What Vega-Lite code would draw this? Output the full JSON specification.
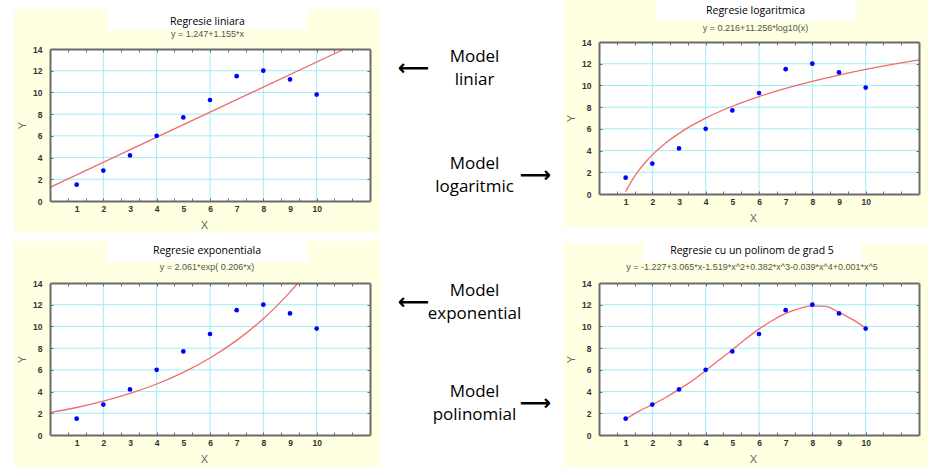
{
  "$schema": "https://vega.github.io/schema/vega-lite/v6.json",
  "background": "white",
  "padding": {"left": 14, "top": 0, "right": 8, "bottom": 5},
  "config": {"view": {"stroke": null}, "font": "Liberation Sans"},
  "datasets": {
    "plot": [{"x0": 0, "x1": 12, "y0": 0, "y1": 14}],
    "pts": [{"x": 1, "y": 1.5}, {"x": 2, "y": 2.8}, {"x": 3, "y": 4.2}, {"x": 4, "y": 6.0}, {"x": 5, "y": 7.7}, {"x": 6, "y": 9.3}, {"x": 7, "y": 11.5}, {"x": 8, "y": 12.0}, {"x": 9, "y": 11.2}, {"x": 10, "y": 9.8}],
    "lin": [{"x": 0, "y": 1.247}, {"x": 11.04, "y": 14.0}],
    "log": [{"x": 1, "y": 0.216}, {"x": 1.25, "y": 1.307}, {"x": 1.5, "y": 2.198}, {"x": 1.75, "y": 2.952}, {"x": 2, "y": 3.604}, {"x": 2.5, "y": 4.695}, {"x": 3, "y": 5.587}, {"x": 3.5, "y": 6.34}, {"x": 4, "y": 6.993}, {"x": 5, "y": 8.084}, {"x": 6, "y": 8.975}, {"x": 7, "y": 9.728}, {"x": 8, "y": 10.381}, {"x": 9, "y": 10.957}, {"x": 10, "y": 11.472}, {"x": 11, "y": 11.938}, {"x": 12, "y": 12.363}],
    "exp": [{"x": 0, "y": 2.061}, {"x": 1, "y": 2.533}, {"x": 2, "y": 3.112}, {"x": 3, "y": 3.824}, {"x": 4, "y": 4.698}, {"x": 5, "y": 5.773}, {"x": 6, "y": 7.094}, {"x": 7, "y": 8.716}, {"x": 8, "y": 10.71}, {"x": 8.5, "y": 11.872}, {"x": 9, "y": 13.16}, {"x": 9.3, "y": 14.0}],
    "poly": [{"x": 1, "y": 1.45}, {"x": 1.5, "y": 2.2}, {"x": 2, "y": 2.8}, {"x": 2.5, "y": 3.45}, {"x": 3, "y": 4.2}, {"x": 3.5, "y": 5.0}, {"x": 4, "y": 5.95}, {"x": 4.5, "y": 6.9}, {"x": 5, "y": 7.85}, {"x": 5.5, "y": 8.85}, {"x": 6, "y": 9.75}, {"x": 6.5, "y": 10.55}, {"x": 7, "y": 11.2}, {"x": 7.5, "y": 11.65}, {"x": 8, "y": 11.9}, {"x": 8.5, "y": 11.85}, {"x": 9, "y": 11.3}, {"x": 9.5, "y": 10.65}, {"x": 10, "y": 9.85}],
    "gx": [{"v": 2}, {"v": 4}, {"v": 6}, {"v": 8}, {"v": 10}],
    "gy": [{"v": 2}, {"v": 4}, {"v": 6}, {"v": 8}, {"v": 10}, {"v": 12}]
  },
  "spacing": 0,
  "hconcat": [
    {
      "spacing": 8,
      "bounds": "flush",
      "vconcat": [
        {"width": 366, "height": 1, "data": {"values": [{}]}, "mark": {"type": "point", "opacity": 0, "size": 0, "strokeWidth": 0}, "encoding": {}},
        {
          "width": 366, "height": 224,
          "view": {"fill": "#FFFFE1", "stroke": null},
          "title": {"text": "Regresie liniara", "subtitle": "y = 1.247+1.155*x", "frame": "group", "anchor": "middle", "dx": 10.5, "offset": -29.5, "font": "Open Sans", "fontSize": 10.5, "fontWeight": "normal", "color": "black", "subtitleFont": "Liberation Sans", "subtitleFontSize": 9, "subtitleColor": "#555", "subtitlePadding": 2.3},
          "resolve": {"axis": {"x": "independent", "y": "independent"}},
          "layer": [
            {"data": {"name": "plot"}, "mark": {"type": "rect", "fill": "white"},
             "encoding": {
               "x": {"field": "x0", "type": "quantitative", "scale": {"domain": [0, 12], "range": [36, 356], "nice": false, "zero": false},
                     "axis": {"orient": "bottom", "offset": -32, "values": [1, 2, 3, 4, 5, 6, 7, 8, 9, 10], "format": "d", "ticks": false, "tickSize": 0, "grid": false, "domain": true, "domainColor": "#6B6B6B", "domainWidth": 2, "labelFont": "Liberation Sans", "labelFontSize": 8.5, "labelFontWeight": "bold", "labelColor": "#333", "labelPadding": 3.5, "labelFlush": false, "title": "X", "titleX": 190, "titleFont": "Liberation Sans", "titleFontSize": 11, "titleFontWeight": "normal", "titleColor": "#666", "titlePadding": 6, "zindex": 1}},
               "x2": {"field": "x1"},
               "y": {"field": "y0", "type": "quantitative", "scale": {"domain": [0, 14], "range": [192, 40], "nice": false, "zero": false},
                     "axis": {"orient": "left", "offset": -36, "values": [0, 2, 4, 6, 8, 10, 12, 14], "format": "d", "ticks": false, "tickSize": 0, "grid": false, "domain": true, "domainColor": "#6B6B6B", "domainWidth": 2, "labelFont": "Liberation Sans", "labelFontSize": 8.5, "labelFontWeight": "bold", "labelColor": "#333", "labelPadding": 8, "labelFlush": false, "title": "Y", "titleFont": "Liberation Sans", "titleFontSize": 11, "titleFontWeight": "normal", "titleColor": "#666", "titlePadding": 5, "zindex": 1}},
               "y2": {"field": "y1"}}},
            {"data": {"values": [{"x0": 2.1375, "x1": 9.6375, "y0": 15.814, "y1": 17.684}]}, "mark": {"type": "rect", "fill": "white"},
             "encoding": {"x": {"field": "x0", "type": "quantitative", "axis": null}, "x2": {"field": "x1"}, "y": {"field": "y0", "type": "quantitative", "axis": null}, "y2": {"field": "y1"}}},
            {"data": {"name": "gx"}, "mark": {"type": "rule", "color": "#9CF0F6", "strokeWidth": 1},
             "encoding": {"x": {"field": "v", "type": "quantitative", "axis": {"orient": "top", "offset": -40, "values": [0.6667, 1.3333, 2, 2.6667, 3.3333, 4, 4.6667, 5.3333, 6, 6.6667, 7.3333, 8, 8.6667, 9.3333, 10, 10.6667, 11.3333], "labels": false, "ticks": true, "tickSize": -3, "tickColor": "#6B6B6B", "domain": true, "domainColor": "#6B6B6B", "domainWidth": 2, "grid": false, "title": null, "zindex": 1}},
                          "y": {"datum": 0, "axis": null}, "y2": {"datum": 14}}},
            {"data": {"name": "gy"}, "mark": {"type": "rule", "color": "#9CF0F6", "strokeWidth": 1},
             "encoding": {"y": {"field": "v", "type": "quantitative", "axis": {"orient": "right", "offset": -10, "values": [2, 4, 6, 8, 10, 12], "labels": false, "ticks": true, "tickSize": -3, "tickColor": "#6B6B6B", "domain": true, "domainColor": "#6B6B6B", "domainWidth": 2, "grid": false, "title": null, "zindex": 1}},
                          "x": {"datum": 0, "axis": null}, "x2": {"datum": 12}}},
            {"data": {"name": "lin"}, "mark": {"type": "line", "color": "#F26B6B", "strokeWidth": 1.3},
             "encoding": {"x": {"field": "x", "type": "quantitative", "axis": null}, "y": {"field": "y", "type": "quantitative", "axis": null}}},
            {"data": {"name": "pts"}, "mark": {"type": "point", "filled": true, "color": "#0000FF", "size": 22, "opacity": 1},
             "encoding": {"x": {"field": "x", "type": "quantitative", "axis": {"orient": "bottom", "offset": -32, "values": [0.6667, 1.3333, 2, 2.6667, 3.3333, 4, 4.6667, 5.3333, 6, 6.6667, 7.3333, 8, 8.6667, 9.3333, 10, 10.6667, 11.3333], "labels": false, "ticks": true, "tickSize": -3, "tickColor": "#6B6B6B", "domain": false, "grid": false, "title": null, "zindex": 1}},
                          "y": {"field": "y", "type": "quantitative", "axis": {"orient": "left", "offset": -36, "values": [2, 4, 6, 8, 10, 12], "labels": false, "ticks": true, "tickSize": -3, "tickColor": "#6B6B6B", "domain": false, "grid": false, "title": null, "zindex": 1}}}}
          ]
        },
        {
          "width": 366, "height": 226,
          "view": {"fill": "#FFFFE1", "stroke": null},
          "title": {"text": "Regresie exponentiala", "subtitle": "y = 2.061*exp( 0.206*x)", "frame": "group", "anchor": "middle", "dx": 10, "offset": -31.3, "font": "Open Sans", "fontSize": 10.5, "fontWeight": "normal", "color": "black", "subtitleFont": "Liberation Sans", "subtitleFontSize": 9, "subtitleColor": "#555", "subtitlePadding": 7.3},
          "resolve": {"axis": {"x": "independent", "y": "independent"}},
          "layer": [
            {"data": {"name": "plot"}, "mark": {"type": "rect", "fill": "white"},
             "encoding": {
               "x": {"field": "x0", "type": "quantitative", "scale": {"domain": [0, 12], "range": [36, 356], "nice": false, "zero": false},
                     "axis": {"orient": "bottom", "offset": -32, "values": [1, 2, 3, 4, 5, 6, 7, 8, 9, 10], "format": "d", "ticks": false, "tickSize": 0, "grid": false, "domain": true, "domainColor": "#6B6B6B", "domainWidth": 2, "labelFont": "Liberation Sans", "labelFontSize": 8.5, "labelFontWeight": "bold", "labelColor": "#333", "labelPadding": 3.5, "labelFlush": false, "title": "X", "titleX": 190, "titleFont": "Liberation Sans", "titleFontSize": 11, "titleFontWeight": "normal", "titleColor": "#666", "titlePadding": 6, "zindex": 1}},
               "x2": {"field": "x1"},
               "y": {"field": "y0", "type": "quantitative", "scale": {"domain": [0, 14], "range": [194, 42], "nice": false, "zero": false},
                     "axis": {"orient": "left", "offset": -36, "values": [0, 2, 4, 6, 8, 10, 12, 14], "format": "d", "ticks": false, "tickSize": 0, "grid": false, "domain": true, "domainColor": "#6B6B6B", "domainWidth": 2, "labelFont": "Liberation Sans", "labelFontSize": 8.5, "labelFontWeight": "bold", "labelColor": "#333", "labelPadding": 8, "labelFlush": false, "title": "Y", "titleFont": "Liberation Sans", "titleFontSize": 11, "titleFontWeight": "normal", "titleColor": "#666", "titlePadding": 5, "zindex": 1}},
               "y2": {"field": "y1"}}},
            {"data": {"values": [{"x0": 2.1375, "x1": 9.6375, "y0": 15.907, "y1": 17.868}]}, "mark": {"type": "rect", "fill": "white"},
             "encoding": {"x": {"field": "x0", "type": "quantitative", "axis": null}, "x2": {"field": "x1"}, "y": {"field": "y0", "type": "quantitative", "axis": null}, "y2": {"field": "y1"}}},
            {"data": {"name": "gx"}, "mark": {"type": "rule", "color": "#9CF0F6", "strokeWidth": 1},
             "encoding": {"x": {"field": "v", "type": "quantitative", "axis": {"orient": "top", "offset": -42, "values": [0.6667, 1.3333, 2, 2.6667, 3.3333, 4, 4.6667, 5.3333, 6, 6.6667, 7.3333, 8, 8.6667, 9.3333, 10, 10.6667, 11.3333], "labels": false, "ticks": true, "tickSize": -3, "tickColor": "#6B6B6B", "domain": true, "domainColor": "#6B6B6B", "domainWidth": 2, "grid": false, "title": null, "zindex": 1}},
                          "y": {"datum": 0, "axis": null}, "y2": {"datum": 14}}},
            {"data": {"name": "gy"}, "mark": {"type": "rule", "color": "#9CF0F6", "strokeWidth": 1},
             "encoding": {"y": {"field": "v", "type": "quantitative", "axis": {"orient": "right", "offset": -10, "values": [2, 4, 6, 8, 10, 12], "labels": false, "ticks": true, "tickSize": -3, "tickColor": "#6B6B6B", "domain": true, "domainColor": "#6B6B6B", "domainWidth": 2, "grid": false, "title": null, "zindex": 1}},
                          "x": {"datum": 0, "axis": null}, "x2": {"datum": 12}}},
            {"data": {"name": "exp"}, "mark": {"type": "line", "color": "#F26B6B", "strokeWidth": 1.3, "interpolate": "monotone"},
             "encoding": {"x": {"field": "x", "type": "quantitative", "axis": null}, "y": {"field": "y", "type": "quantitative", "axis": null}}},
            {"data": {"name": "pts"}, "mark": {"type": "point", "filled": true, "color": "#0000FF", "size": 22, "opacity": 1},
             "encoding": {"x": {"field": "x", "type": "quantitative", "axis": {"orient": "bottom", "offset": -32, "values": [0.6667, 1.3333, 2, 2.6667, 3.3333, 4, 4.6667, 5.3333, 6, 6.6667, 7.3333, 8, 8.6667, 9.3333, 10, 10.6667, 11.3333], "labels": false, "ticks": true, "tickSize": -3, "tickColor": "#6B6B6B", "domain": false, "grid": false, "title": null, "zindex": 1}},
                          "y": {"field": "y", "type": "quantitative", "axis": {"orient": "left", "offset": -36, "values": [2, 4, 6, 8, 10, 12], "labels": false, "ticks": true, "tickSize": -3, "tickColor": "#6B6B6B", "domain": false, "grid": false, "title": null, "zindex": 1}}}}
          ]
        }
      ]
    },
    {
      "spacing": 0,
      "bounds": "flush",
      "vconcat": [
        {"width": 183, "height": 136,
         "layer": [
           {"data": {"values": [{"part": "C", "label": "Model\nliniar"}]}, "mark": {"type": "text", "font": "Open Sans", "fontSize": 17, "lineHeight": 23, "lineBreak": "\n", "color": "black", "dy": -11.5, "dx": 3},
            "encoding": {"x": {"field": "part", "type": "nominal", "scale": {"type": "point", "domain": ["L", "C", "R"], "padding": 0.5}, "axis": null}, "text": {"field": "label", "type": "nominal"}}},
           {"data": {"values": [{"part": "L", "label": "⟵"}]}, "mark": {"type": "text", "font": "DejaVu Sans", "fontSize": 22, "fontWeight": "bold", "color": "black", "dx": 3},
            "encoding": {"x": {"field": "part", "type": "nominal", "axis": null}, "text": {"field": "label", "type": "nominal"}}}
         ]},
        {"width": 183, "height": 78,
         "layer": [
           {"data": {"values": [{"part": "C", "label": "Model\nlogaritmic"}]}, "mark": {"type": "text", "font": "Open Sans", "fontSize": 17, "lineHeight": 23, "lineBreak": "\n", "color": "black", "dy": -11.5, "dx": 3},
            "encoding": {"x": {"field": "part", "type": "nominal", "scale": {"type": "point", "domain": ["L", "C", "R"], "padding": 0.5}, "axis": null}, "text": {"field": "label", "type": "nominal"}}},
           {"data": {"values": [{"part": "R", "label": "⟶"}]}, "mark": {"type": "text", "font": "DejaVu Sans", "fontSize": 22, "fontWeight": "bold", "color": "black", "dx": 3},
            "encoding": {"x": {"field": "part", "type": "nominal", "axis": null}, "text": {"field": "label", "type": "nominal"}}}
         ]},
        {"width": 183, "height": 176,
         "layer": [
           {"data": {"values": [{"part": "C", "label": "Model\nexponential"}]}, "mark": {"type": "text", "font": "Open Sans", "fontSize": 17, "lineHeight": 23, "lineBreak": "\n", "color": "black", "dy": -11.5, "dx": 3},
            "encoding": {"x": {"field": "part", "type": "nominal", "scale": {"type": "point", "domain": ["L", "C", "R"], "padding": 0.5}, "axis": null}, "text": {"field": "label", "type": "nominal"}}},
           {"data": {"values": [{"part": "L", "label": "⟵"}]}, "mark": {"type": "text", "font": "DejaVu Sans", "fontSize": 22, "fontWeight": "bold", "color": "black", "dx": 3},
            "encoding": {"x": {"field": "part", "type": "nominal", "axis": null}, "text": {"field": "label", "type": "nominal"}}}
         ]},
        {"width": 183, "height": 26,
         "layer": [
           {"data": {"values": [{"part": "C", "label": "Model\npolinomial"}]}, "mark": {"type": "text", "font": "Open Sans", "fontSize": 17, "lineHeight": 23, "lineBreak": "\n", "color": "black", "dy": -11.5, "dx": 3},
            "encoding": {"x": {"field": "part", "type": "nominal", "scale": {"type": "point", "domain": ["L", "C", "R"], "padding": 0.5}, "axis": null}, "text": {"field": "label", "type": "nominal"}}},
           {"data": {"values": [{"part": "R", "label": "⟶"}]}, "mark": {"type": "text", "font": "DejaVu Sans", "fontSize": 22, "fontWeight": "bold", "color": "black", "dx": 3},
            "encoding": {"x": {"field": "part", "type": "nominal", "axis": null}, "text": {"field": "label", "type": "nominal"}}}
         ]}
      ]
    },
    {
      "spacing": 16,
      "bounds": "flush",
      "vconcat": [
        {
          "width": 365, "height": 227,
          "view": {"fill": "#FFFFE1", "stroke": null},
          "title": {"text": "Regresie logaritmica", "subtitle": "y = 0.216+11.256*log10(x)", "frame": "group", "anchor": "middle", "dx": 10, "offset": -32.7, "font": "Open Sans", "fontSize": 10.5, "fontWeight": "normal", "color": "black", "subtitleFont": "Liberation Sans", "subtitleFontSize": 9, "subtitleColor": "#555", "subtitlePadding": 7.4},
          "resolve": {"axis": {"x": "independent", "y": "independent"}},
          "layer": [
            {"data": {"name": "plot"}, "mark": {"type": "rect", "fill": "white"},
             "encoding": {
               "x": {"field": "x0", "type": "quantitative", "scale": {"domain": [0, 12], "range": [36, 356], "nice": false, "zero": false},
                     "axis": {"orient": "bottom", "offset": -33, "values": [1, 2, 3, 4, 5, 6, 7, 8, 9, 10], "format": "d", "ticks": false, "tickSize": 0, "grid": false, "domain": true, "domainColor": "#6B6B6B", "domainWidth": 2, "labelFont": "Liberation Sans", "labelFontSize": 8.5, "labelFontWeight": "bold", "labelColor": "#333", "labelPadding": 3.5, "labelFlush": false, "title": "X", "titleX": 190, "titleFont": "Liberation Sans", "titleFontSize": 11, "titleFontWeight": "normal", "titleColor": "#666", "titlePadding": 6, "zindex": 1}},
               "x2": {"field": "x1"},
               "y": {"field": "y0", "type": "quantitative", "scale": {"domain": [0, 14], "range": [194, 42], "nice": false, "zero": false},
                     "axis": {"orient": "left", "offset": -36, "values": [0, 2, 4, 6, 8, 10, 12, 14], "format": "d", "ticks": false, "tickSize": 0, "grid": false, "domain": true, "domainColor": "#6B6B6B", "domainWidth": 2, "labelFont": "Liberation Sans", "labelFontSize": 8.5, "labelFontWeight": "bold", "labelColor": "#333", "labelPadding": 8, "labelFlush": false, "title": "Y", "titleFont": "Liberation Sans", "titleFontSize": 11, "titleFontWeight": "normal", "titleColor": "#666", "titlePadding": 5, "zindex": 1}},
               "y2": {"field": "y1"}}},
            {"data": {"values": [{"x0": 2.1375, "x1": 9.6375, "y0": 15.934, "y1": 17.868}]}, "mark": {"type": "rect", "fill": "white"},
             "encoding": {"x": {"field": "x0", "type": "quantitative", "axis": null}, "x2": {"field": "x1"}, "y": {"field": "y0", "type": "quantitative", "axis": null}, "y2": {"field": "y1"}}},
            {"data": {"name": "gx"}, "mark": {"type": "rule", "color": "#9CF0F6", "strokeWidth": 1},
             "encoding": {"x": {"field": "v", "type": "quantitative", "axis": {"orient": "top", "offset": -42, "values": [0.6667, 1.3333, 2, 2.6667, 3.3333, 4, 4.6667, 5.3333, 6, 6.6667, 7.3333, 8, 8.6667, 9.3333, 10, 10.6667, 11.3333], "labels": false, "ticks": true, "tickSize": -3, "tickColor": "#6B6B6B", "domain": true, "domainColor": "#6B6B6B", "domainWidth": 2, "grid": false, "title": null, "zindex": 1}},
                          "y": {"datum": 0, "axis": null}, "y2": {"datum": 14}}},
            {"data": {"name": "gy"}, "mark": {"type": "rule", "color": "#9CF0F6", "strokeWidth": 1},
             "encoding": {"y": {"field": "v", "type": "quantitative", "axis": {"orient": "right", "offset": -9, "values": [2, 4, 6, 8, 10, 12], "labels": false, "ticks": true, "tickSize": -3, "tickColor": "#6B6B6B", "domain": true, "domainColor": "#6B6B6B", "domainWidth": 2, "grid": false, "title": null, "zindex": 1}},
                          "x": {"datum": 0, "axis": null}, "x2": {"datum": 12}}},
            {"data": {"name": "log"}, "mark": {"type": "line", "color": "#F26B6B", "strokeWidth": 1.3, "interpolate": "monotone"},
             "encoding": {"x": {"field": "x", "type": "quantitative", "axis": null}, "y": {"field": "y", "type": "quantitative", "axis": null}}},
            {"data": {"name": "pts"}, "mark": {"type": "point", "filled": true, "color": "#0000FF", "size": 22, "opacity": 1},
             "encoding": {"x": {"field": "x", "type": "quantitative", "axis": {"orient": "bottom", "offset": -33, "values": [0.6667, 1.3333, 2, 2.6667, 3.3333, 4, 4.6667, 5.3333, 6, 6.6667, 7.3333, 8, 8.6667, 9.3333, 10, 10.6667, 11.3333], "labels": false, "ticks": true, "tickSize": -3, "tickColor": "#6B6B6B", "domain": false, "grid": false, "title": null, "zindex": 1}},
                          "y": {"field": "y", "type": "quantitative", "axis": {"orient": "left", "offset": -36, "values": [2, 4, 6, 8, 10, 12], "labels": false, "ticks": true, "tickSize": -3, "tickColor": "#6B6B6B", "domain": false, "grid": false, "title": null, "zindex": 1}}}}
          ]
        },
        {
          "width": 365, "height": 224,
          "view": {"fill": "#FFFFE1", "stroke": null},
          "title": {"text": "Regresie cu un polinom de grad 5", "subtitle": "y = -1.227+3.065*x-1.519*x^2+0.382*x^3-0.039*x^4+0.001*x^5", "frame": "group", "anchor": "middle", "dx": 6.5, "offset": -29.3, "font": "Open Sans", "fontSize": 10.5, "fontWeight": "normal", "color": "black", "subtitleFont": "Liberation Sans", "subtitleFontSize": 9, "subtitleColor": "#555", "subtitlePadding": 7.3},
          "resolve": {"axis": {"x": "independent", "y": "independent"}},
          "layer": [
            {"data": {"name": "plot"}, "mark": {"type": "rect", "fill": "white"},
             "encoding": {
               "x": {"field": "x0", "type": "quantitative", "scale": {"domain": [0, 12], "range": [36, 356], "nice": false, "zero": false},
                     "axis": {"orient": "bottom", "offset": -32, "values": [1, 2, 3, 4, 5, 6, 7, 8, 9, 10], "format": "d", "ticks": false, "tickSize": 0, "grid": false, "domain": true, "domainColor": "#6B6B6B", "domainWidth": 2, "labelFont": "Liberation Sans", "labelFontSize": 8.5, "labelFontWeight": "bold", "labelColor": "#333", "labelPadding": 3.5, "labelFlush": false, "title": "X", "titleX": 190, "titleFont": "Liberation Sans", "titleFontSize": 11, "titleFontWeight": "normal", "titleColor": "#666", "titlePadding": 6, "zindex": 1}},
               "x2": {"field": "x1"},
               "y": {"field": "y0", "type": "quantitative", "scale": {"domain": [0, 14], "range": [192, 40], "nice": false, "zero": false},
                     "axis": {"orient": "left", "offset": -36, "values": [0, 2, 4, 6, 8, 10, 12, 14], "format": "d", "ticks": false, "tickSize": 0, "grid": false, "domain": true, "domainColor": "#6B6B6B", "domainWidth": 2, "labelFont": "Liberation Sans", "labelFontSize": 8.5, "labelFontWeight": "bold", "labelColor": "#333", "labelPadding": 8, "labelFlush": false, "title": "Y", "titleFont": "Liberation Sans", "titleFontSize": 11, "titleFontWeight": "normal", "titleColor": "#666", "titlePadding": 5, "zindex": 1}},
               "y2": {"field": "y1"}}},
            {"data": {"values": [{"x0": 1.6875, "x1": 9.851, "y0": 15.962, "y1": 17.684}]}, "mark": {"type": "rect", "fill": "white"},
             "encoding": {"x": {"field": "x0", "type": "quantitative", "axis": null}, "x2": {"field": "x1"}, "y": {"field": "y0", "type": "quantitative", "axis": null}, "y2": {"field": "y1"}}},
            {"data": {"name": "gx"}, "mark": {"type": "rule", "color": "#9CF0F6", "strokeWidth": 1},
             "encoding": {"x": {"field": "v", "type": "quantitative", "axis": {"orient": "top", "offset": -40, "values": [0.6667, 1.3333, 2, 2.6667, 3.3333, 4, 4.6667, 5.3333, 6, 6.6667, 7.3333, 8, 8.6667, 9.3333, 10, 10.6667, 11.3333], "labels": false, "ticks": true, "tickSize": -3, "tickColor": "#6B6B6B", "domain": true, "domainColor": "#6B6B6B", "domainWidth": 2, "grid": false, "title": null, "zindex": 1}},
                          "y": {"datum": 0, "axis": null}, "y2": {"datum": 14}}},
            {"data": {"name": "gy"}, "mark": {"type": "rule", "color": "#9CF0F6", "strokeWidth": 1},
             "encoding": {"y": {"field": "v", "type": "quantitative", "axis": {"orient": "right", "offset": -9, "values": [2, 4, 6, 8, 10, 12], "labels": false, "ticks": true, "tickSize": -3, "tickColor": "#6B6B6B", "domain": true, "domainColor": "#6B6B6B", "domainWidth": 2, "grid": false, "title": null, "zindex": 1}},
                          "x": {"datum": 0, "axis": null}, "x2": {"datum": 12}}},
            {"data": {"name": "poly"}, "mark": {"type": "line", "color": "#F26B6B", "strokeWidth": 1.3, "interpolate": "monotone"},
             "encoding": {"x": {"field": "x", "type": "quantitative", "axis": null}, "y": {"field": "y", "type": "quantitative", "axis": null}}},
            {"data": {"name": "pts"}, "mark": {"type": "point", "filled": true, "color": "#0000FF", "size": 22, "opacity": 1},
             "encoding": {"x": {"field": "x", "type": "quantitative", "axis": {"orient": "bottom", "offset": -32, "values": [0.6667, 1.3333, 2, 2.6667, 3.3333, 4, 4.6667, 5.3333, 6, 6.6667, 7.3333, 8, 8.6667, 9.3333, 10, 10.6667, 11.3333], "labels": false, "ticks": true, "tickSize": -3, "tickColor": "#6B6B6B", "domain": false, "grid": false, "title": null, "zindex": 1}},
                          "y": {"field": "y", "type": "quantitative", "axis": {"orient": "left", "offset": -36, "values": [2, 4, 6, 8, 10, 12], "labels": false, "ticks": true, "tickSize": -3, "tickColor": "#6B6B6B", "domain": false, "grid": false, "title": null, "zindex": 1}}}}
          ]
        }
      ]
    }
  ]
}
